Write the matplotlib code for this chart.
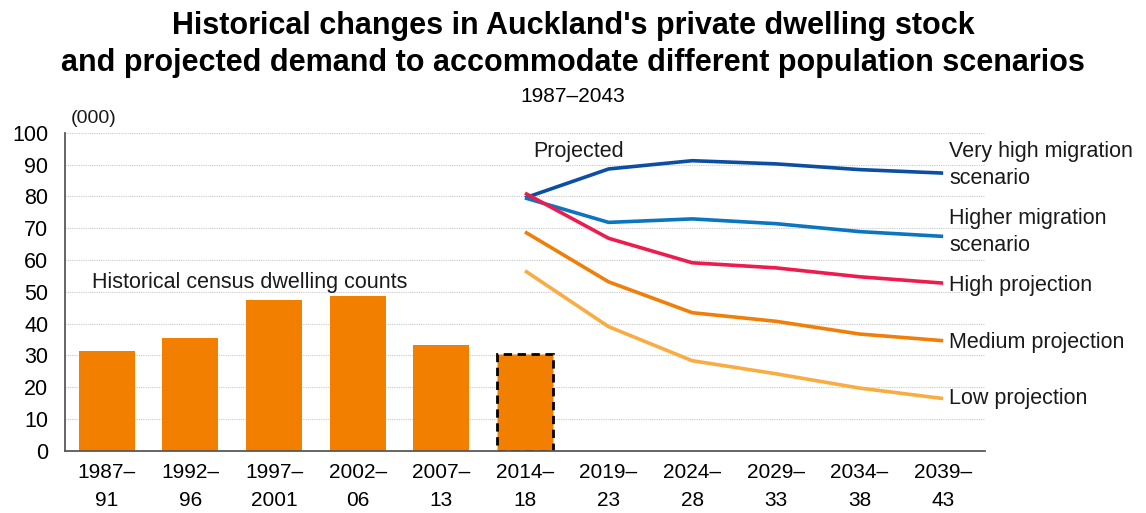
import numpy as np
import matplotlib.pyplot as plt

plt.rcParams['font.family'] = ['Liberation Sans', 'DejaVu Sans']

periods = ['1987–\n91', '1992–\n96', '1997–\n2001', '2002–\n06', '2007–\n13', '2014–\n18',
           '2019–\n23', '2024–\n28', '2029–\n33', '2034–\n38', '2039–\n43']

# historical census dwelling counts (000), first six periods
census = [31.5, 35.6, 47.3, 48.6, 33.4, 30.3]

# projected demand (000), from 2014–18 to 2039–43
very_high = [79.5, 88.6, 91.2, 90.2, 88.4, 87.3]
higher = [79.5, 71.8, 72.9, 71.4, 68.9, 67.4]
high = [81.0, 66.8, 59.1, 57.5, 54.7, 52.7]
medium = [68.8, 53.1, 43.4, 40.7, 36.7, 34.6]
low = [56.6, 39.0, 28.3, 24.2, 19.7, 16.4]

series_names = ['Very high migration\nscenario', 'Higher migration\nscenario',
                'High projection', 'Medium projection', 'Low projection']
series_colors = ['#0b4ea2', '#0a76c0', '#ee1c4e', '#f07f09', '#f9ac42']
label_offsets = [2.6, 1.3, -0.9, -0.7, 0.0]

fig = plt.figure(figsize=(11.46, 5.13), dpi=100)
ax = fig.add_axes([0.0567, 0.1214, 0.8028, 0.6199])

x = np.arange(len(periods))
bar_color = '#f27f00'
ax.bar(x[:5], census[:5], width=0.67, color=bar_color, zorder=2)
ax.bar(x[5], census[5], width=0.67, color=bar_color, edgecolor='black',
       linestyle=(0, (3, 2)), linewidth=2, zorder=2)

xp = x[5:]
for vals, name, col, off in zip([very_high, higher, high, medium, low],
                                series_names, series_colors, label_offsets):
    ax.plot(xp, vals, color=col, lw=2.6, zorder=3, solid_capstyle='butt')
    ax.text(xp[-1] + 0.07, vals[-1] + off, name, fontsize=15.5, va='center',
            ha='left', color='#1a1a1a', linespacing=1.35, clip_on=False)

ax.set_xlim(-0.5, len(periods) - 0.5)
ax.set_ylim(0, 100)
ax.set_yticks(np.arange(0, 101, 10))
ax.set_xticks(x)
ax.set_xticklabels(periods, fontsize=15, linespacing=1.6)
ax.tick_params(axis='y', labelsize=15.5, length=0, pad=12)
ax.tick_params(axis='x', length=0, pad=9)
ax.yaxis.grid(True, color='#c8c8c8', linestyle=(0, (1, 1)), lw=0.8, zorder=0)
ax.set_axisbelow(True)

for s in ['top', 'right']:
    ax.spines[s].set_visible(False)
for s in ['left', 'bottom']:
    ax.spines[s].set_color('#595959')
    ax.spines[s].set_linewidth(1.3)

ax.text(-0.18, 53, 'Historical census dwelling counts', fontsize=15.5, va='center', color='#1a1a1a')
ax.text(5.1, 94, 'Projected', fontsize=15.5, va='center', color='#1a1a1a')
ax.text(0.006, 1.045, '(000)', transform=ax.transAxes, fontsize=14, va='center', color='#1a1a1a')

fig.text(0.5, 0.949, "Historical changes in Auckland's private dwelling stock",
         ha='center', va='center', fontsize=22, fontweight='bold')
fig.text(0.5, 0.877, "and projected demand to accommodate different population scenarios",
         ha='center', va='center', fontsize=22, fontweight='bold')
fig.text(0.5, 0.812, '1987–2043', ha='center', va='center', fontsize=15)

fig.savefig('out.png', dpi=100)
